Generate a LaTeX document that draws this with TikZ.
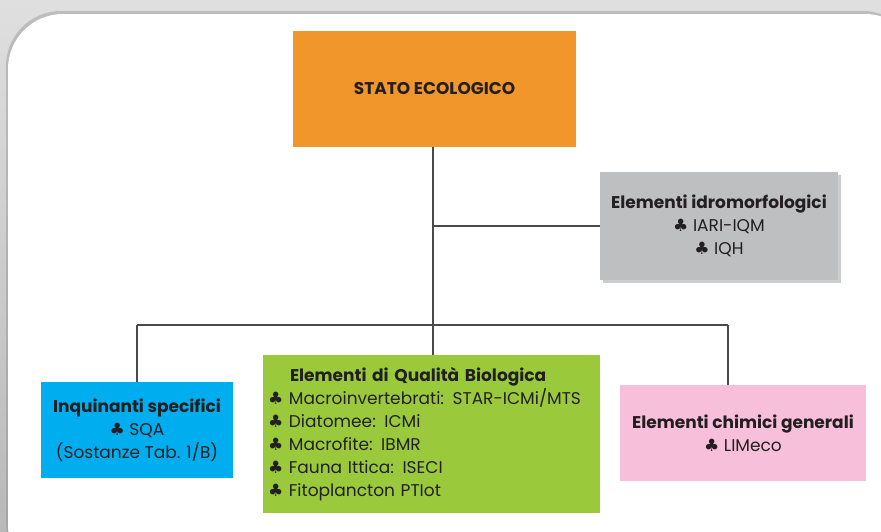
\documentclass[tikz,border=0pt]{standalone}
\usepackage{fontspec}
\setmainfont{Poppins}
\newfontfamily\clubfont{DejaVu Sans}
\usepackage{tikz}
\usetikzlibrary{shadows}

\definecolor{arancio}{HTML}{F0962A}
\definecolor{grigio}{HTML}{BEBFC1}
\definecolor{azzurro}{HTML}{00AEEF}
\definecolor{verde}{HTML}{9ACA3C}
\definecolor{rosa}{HTML}{F7BFD9}
\definecolor{testo}{HTML}{231F20}
\definecolor{linea}{HTML}{4A4A4A}

\newcommand{\fiore}{{\clubfont ♣}}

\tikzset{
  box/.style={draw=none, inner sep=4pt, text=testo, align=center,
    font=\fontsize{17}{23}\selectfont},
  ramo/.style={draw=linea, line width=1.8pt}
}

\begin{document}
\begin{tikzpicture}[x=1pt,y=-1pt]
        \useasboundingbox (0,0) rectangle (881,531);
        \shade[top color=gray!25, bottom color=gray!55] (0,0) rectangle (881,531);
        \fill[white, rounded corners=55pt, drop shadow={opacity=0.35, shadow xshift=-2pt, shadow yshift=3pt}] (8,14) rectangle (920,580);

        \node[box, fill=arancio, minimum width=283pt, minimum height=116pt] (stato) at (434.5,89) {\textbf{STATO ECOLOGICO}};
        \node[box, fill=grigio, minimum width=238pt, minimum height=108pt, drop shadow={opacity=0.4}] (idro) at (719,226)
          {\textbf{Elementi idromorfologici}\\ \fiore{} IARI-IQM\\ \fiore{} IQH};
        \node[box, fill=azzurro, minimum width=192pt, minimum height=96pt] (inq) at (137,430)
          {\textbf{Inquinanti specifici}\\ \fiore{} SQA\\ (Sostanze Tab. 1/B)};
        \node[box, fill=verde, minimum width=337pt, minimum height=158pt, align=left, text width=327pt] (bio) at (431.5,434)
          {\hspace*{22pt}\textbf{Elementi di Qualità Biologica}\\
           \fiore{} Macroinvertebrati: STAR-ICMi/MTS\\
           \fiore{} Diatomee: ICMi\\
           \fiore{} Macrofite: IBMR\\
           \fiore{} Fauna Ittica: ISECI\\
           \fiore{} Fitoplancton PTIot};
        \node[box, fill=rosa, minimum width=246pt, minimum height=96pt] (chim) at (743,433)
          {\textbf{Elementi chimici generali}\\ \fiore{} LIMeco};

        \coordinate (nodo) at (433,226);
        \coordinate (sx) at (137,325);
        \coordinate (dx) at (728,325);

        \draw[ramo] (stato.south -| nodo) -- (bio.north -| nodo);
        \draw[ramo] (nodo) -- (idro.west);
        \draw[ramo] (sx) -- (dx);
        \draw[ramo] (sx) -- (inq.north);
        \draw[ramo] (dx) -- (chim.north -| dx);
    \end{tikzpicture}
\end{document}
